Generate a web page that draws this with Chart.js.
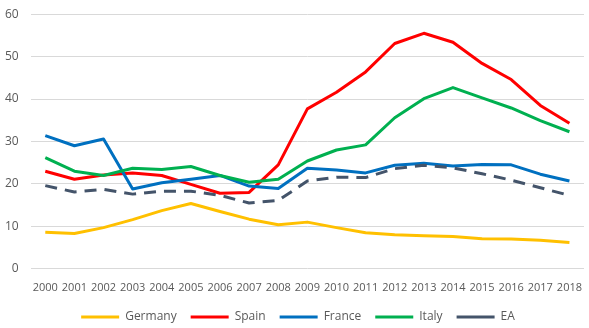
<!DOCTYPE html>
<html>
<head>
<meta charset="utf-8">
<script src="https://cdn.jsdelivr.net/npm/chart.js@4/dist/chart.umd.min.js"></script>
<style>
  html, body { margin: 0; padding: 0; background: #fff; }
  #wrap { position: relative; width: 589px; height: 328px; }
</style>
</head>
<body>
<div id="wrap"><canvas id="rateChart"></canvas></div>
<script>
// years on the x axis
const years = [
  "2000", "2001", "2002", "2003", "2004", "2005", "2006", "2007", "2008", "2009",
  "2010", "2011", "2012", "2013", "2014", "2015", "2016", "2017", "2018",
];

// series values, one per year
const germany = [8.6, 8.3, 9.7, 11.6, 13.7, 15.4, 13.5, 11.7, 10.4, 11.0, 9.7, 8.5, 8.0, 7.8, 7.6, 7.1, 7.0, 6.7, 6.2];
const spain = [23.0, 21.1, 22.1, 22.6, 22.0, 19.9, 17.8, 18.0, 24.5, 37.7, 41.6, 46.4, 53.1, 55.5, 53.4, 48.4, 44.6, 38.5, 34.3];
const france = [31.4, 29.0, 30.6, 18.8, 20.3, 21.1, 22.0, 19.5, 18.9, 23.7, 23.3, 22.6, 24.4, 24.9, 24.2, 24.6, 24.5, 22.3, 20.7];
const italy = [26.2, 23.0, 22.0, 23.7, 23.4, 24.1, 22.0, 20.4, 21.1, 25.4, 28.0, 29.2, 35.6, 40.1, 42.7, 40.3, 37.9, 34.9, 32.3];
const ea = [19.6, 18.1, 18.7, 17.6, 18.3, 18.3, 17.3, 15.5, 16.1, 20.7, 21.6, 21.5, 23.6, 24.4, 23.8, 22.4, 20.9, 19.1, 17.3];

// y axis ticks
const yTicks = [0, 10, 20, 30, 40, 50, 60];

const FONT = "'Open Sans', 'Liberation Sans', sans-serif";
const GREY = "#595959";

function series(label, data, color, order, dash) {
  return {
    label,
    data,
    borderColor: color,
    backgroundColor: color,
    borderWidth: 3,
    borderDash: dash || [],
    borderCapStyle: "butt",
    borderJoinStyle: "round",
    pointRadius: 0,
    pointHoverRadius: 0,
    pointStyle: "line",
    tension: 0,
    fill: false,
    order, // later series are painted above earlier ones
  };
}

// centre the legend under the plot area rather than the whole canvas
const legendShift = {
  id: "legendShift",
  afterLayout(chart) {
    const dx = 7;
    chart.legend.left += dx;
    chart.legend.right += dx;
  },
};

new Chart(document.getElementById("rateChart"), {
  type: "line",
  data: {
    labels: years,
    datasets: [
      series("Germany", germany, "#FFC000", 4),
      series("Spain", spain, "#FF0000", 3),
      series("France", france, "#0070C0", 2),
      series("Italy", italy, "#00B050", 1),
      series("EA", ea, "#44546A", 0, [12, 8]),
    ],
  },
  plugins: [legendShift],
  options: {
    responsive: true,
    maintainAspectRatio: false,
    animation: false,
    layout: { padding: { left: -2, right: 5, top: 3, bottom: -5 } },
    plugins: {
      legend: {
        position: "bottom",
        labels: {
          usePointStyle: true,
          pointStyleWidth: 38,
          padding: 14,
          color: GREY,
          font: { family: FONT, size: 12 },
          sort: (a, b) => a.datasetIndex - b.datasetIndex,
        },
      },
      tooltip: { enabled: false },
    },
    scales: {
      x: {
        offset: true,
        // invisible tick marks give the gap under the axis
        grid: { color: "transparent", drawOnChartArea: false, drawTicks: true, tickLength: 12 },
        border: { display: false },
        ticks: {
          autoSkip: false,
          maxRotation: 0,
          padding: 0,
          color: GREY,
          font: { family: FONT, size: 11 },
        },
        afterFit: (axis) => {
          axis.height += 3;
        },
      },
      y: {
        min: yTicks[0],
        max: yTicks[yTicks.length - 1],
        afterBuildTicks: (axis) => {
          axis.ticks = yTicks.map((v) => ({ value: v }));
        },
        grid: { color: "#d9d9d9", lineWidth: 1, drawTicks: true, tickLength: 5, tickColor: "transparent" },
        border: { display: false },
        ticks: {
          padding: 7,
          color: GREY,
          font: { family: FONT, size: 12 },
        },
      },
    },
  },
});
</script>
</body>
</html>
